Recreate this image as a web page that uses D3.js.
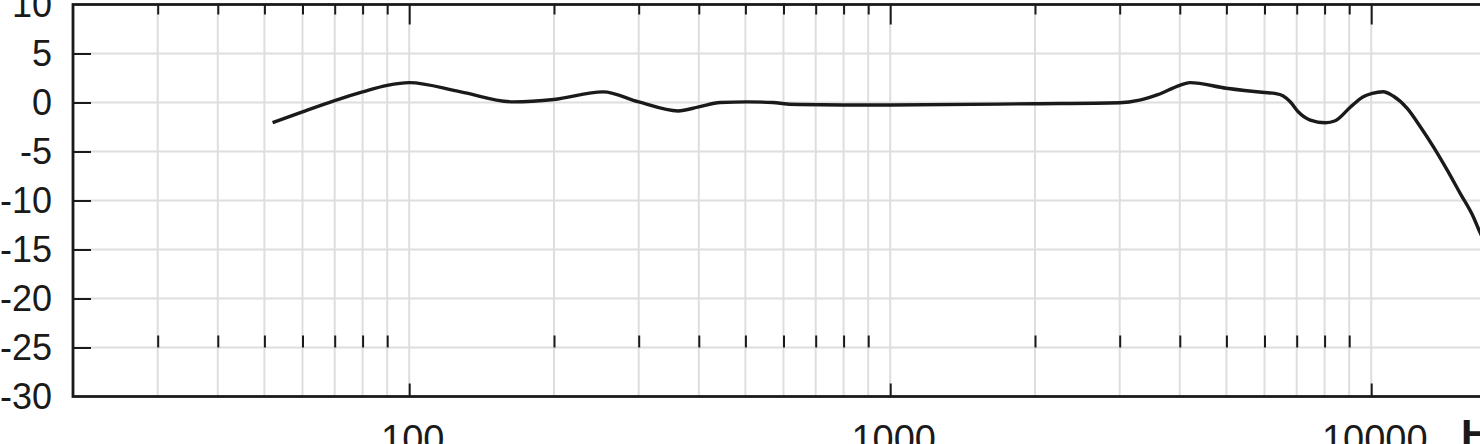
<!DOCTYPE html>
<html>
<head>
<meta charset="utf-8">
<script src="https://cdn.jsdelivr.net/npm/d3@7"></script>
<style>
  html, body { margin: 0; padding: 0; background: #ffffff; overflow: hidden; }
  svg { display: block; }
  text { font-family: "Liberation Sans", Arial, Helvetica, sans-serif; fill: #1a1a1a; }
</style>
</head>
<body>
<svg id="chart" width="1480" height="444"></svg>
<script>
// ---- data ----
const freqs = [52, 60, 70, 80, 90, 100, 128, 165, 200, 253, 300, 362, 400, 443, 505, 570, 610, 650, 800, 1000, 2000, 3000, 3300, 3600, 4000, 4200, 5000, 6000, 6300, 6550, 6785, 7050, 7469, 8027, 8418, 9046, 9626, 10049, 10590, 11110, 11880, 12650, 13460, 14390, 15310, 16300, 16850, 20000];
const levels = [-2.06, -0.95, 0.2, 1.08, 1.75, 2.03, 1.08, 0.06, 0.3, 1.08, 0.06, -0.86, -0.45, 0.0, 0.06, 0.0, -0.15, -0.2, -0.25, -0.25, -0.12, -0.02, 0.25, 0.8, 1.75, 2.03, 1.45, 1.02, 0.93, 0.7, 0.08, -0.94, -1.79, -2.06, -1.86, -0.49, 0.59, 0.94, 1.1, 0.66, -0.6, -2.47, -4.5, -6.9, -9.27, -11.65, -13.3, -19];
const majorTicks = [100, 1000, 10000];
const minorTicks = [30, 40, 50, 60, 70, 80, 90, 200, 300, 400, 500, 600, 700, 800, 900, 2000, 3000, 4000, 5000, 6000, 7000, 8000, 9000];
const yTicks = [10, 5, 0, -5, -10, -15, -20, -25, -30];
const xUnit = "Hz";

// ---- layout ----
const svg = d3.select("#chart");
const pL = 73, pR = 1516, pT = 4.5, pB = 396.5;
const x = d3.scaleLog().domain([20, 20000]).range([pL, pR]);
const y = d3.scaleLinear().domain([-30, 10]).range([pB, pT]);

const gridColor = "#dedede";
const fmt = d => String(d);

// grid
svg.append("g").selectAll("line").data(minorTicks.concat(majorTicks)).join("line")
  .attr("x1", d => x(d)).attr("x2", d => x(d))
  .attr("y1", pT).attr("y2", pB)
  .attr("stroke", gridColor).attr("stroke-width", 2);
svg.append("g").selectAll("line").data(yTicks.filter(d => d > -30 && d < 10)).join("line")
  .attr("x1", pL).attr("x2", pR)
  .attr("y1", d => y(d)).attr("y2", d => y(d))
  .attr("stroke", gridColor).attr("stroke-width", 2);

function styleAxis(size) {
  return g => {
    g.select(".domain").remove();
    g.selectAll(".tick line").attr("stroke", "#1a1a1a").attr("stroke-width", 2);
    g.selectAll(".tick text").style("font-size", size + "px").attr("fill", "#1a1a1a");
  };
}

// top axis: inward ticks
svg.append("g").attr("transform", `translate(0,${pT})`)
  .call(d3.axisTop(x).tickValues(minorTicks).tickSize(-10).tickFormat(""))
  .call(styleAxis(36));
svg.append("g").attr("transform", `translate(0,${pT})`)
  .call(d3.axisTop(x).tickValues(majorTicks).tickSize(-20).tickFormat(""))
  .call(styleAxis(36));

// bottom axis: major ticks with labels
svg.append("g").attr("transform", `translate(0,${pB})`)
  .call(d3.axisBottom(x).tickValues(majorTicks).tickSize(-13).tickPadding(0).tickFormat(fmt))
  .call(styleAxis(38))
  .call(g => g.selectAll(".tick text").attr("y", 55).attr("dy", null).attr("dx", 3));
// bottom minor ticks (drawn at the -25 dB line)
svg.append("g").attr("transform", `translate(0,${y(-25)})`)
  .call(d3.axisBottom(x).tickValues(minorTicks).tickSize(-12).tickFormat(""))
  .call(styleAxis(36));

// left axis
svg.append("g").attr("transform", `translate(${pL},0)`)
  .call(d3.axisLeft(y).tickValues(yTicks.filter(d => d > -30 && d < 10)).tickSize(-18).tickPadding(21).tickFormat(fmt))
  .call(styleAxis(36));
svg.append("g").attr("transform", `translate(${pL},0)`)
  .call(d3.axisLeft(y).tickValues([10, -30]).tickSize(0).tickPadding(21).tickFormat(fmt))
  .call(styleAxis(36));

// frame
svg.append("rect").attr("x", pL).attr("y", pT)
  .attr("width", pR - pL).attr("height", pB - pT)
  .attr("fill", "none").attr("stroke", "#1a1a1a").attr("stroke-width", 2.8);

// unit label
svg.append("text").attr("x", 1461).attr("y", 448)
  .style("font-size", "41px").style("font-weight", "bold").text(xUnit);

// curve
const pts = freqs.map((f, i) => [f, levels[i]]);
const line = d3.line().x(d => x(d[0])).y(d => y(d[1])).curve(d3.curveMonotoneX);
svg.append("path").datum(pts)
  .attr("d", line)
  .attr("fill", "none").attr("stroke", "#1a1a1a").attr("stroke-width", 3.4)
  .attr("stroke-linejoin", "round").attr("stroke-linecap", "butt");
</script>
</body>
</html>
